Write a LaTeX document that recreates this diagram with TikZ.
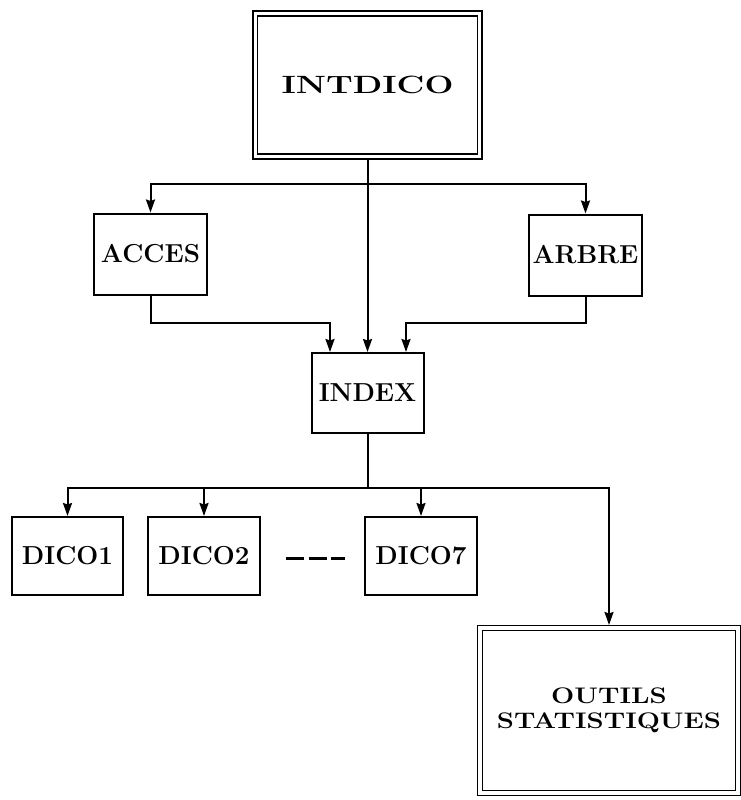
\documentclass[tikz,border=0pt]{standalone}
\usepackage{graphicx}
\usetikzlibrary{arrows.meta,calc}
\newcommand\wide[2]{\scalebox{#1}[1]{#2}}
\begin{document}
\begin{tikzpicture}[x=1pt,y=-1pt,
  every node/.style={font=\bfseries\fontsize{26}{28}\selectfont},
  box/.style={draw, line width=2pt, inner sep=0pt, minimum width=112pt, minimum height=80pt, align=center},
  dbox/.style={draw, line width=1.5pt, double, double distance=3.3pt, inner sep=0pt, outer sep=3pt, align=center},
  conn/.style={line width=2pt},
  arr/.style={conn, -{Stealth[length=13pt,width=9pt,inset=1.5pt]}},
  dashline/.style={line width=3pt, dash pattern=on 18pt off 4.5pt}
]
\useasboundingbox (0,0) rectangle (741,800);

\node[dbox, minimum width=224.5pt, minimum height=143pt,
      font=\bfseries\fontsize{25}{28}\selectfont] (intdico) at (367.5,85) {\wide{1.37}{INTDICO}};
\node[box, minimum width=113pt, minimum height=81pt] (acces) at (150.5,254) {ACCES};
\node[box, minimum width=113pt, minimum height=81pt] (arbre) at (585.5,255) {ARBRE};
\node[box] (index) at (367.5,393) {INDEX};
\node[box, minimum width=111pt, minimum height=78pt] (dico1) at (67.5,556) {DICO1};
\node[box, minimum height=78pt] (dico2) at (204,556) {DICO2};
\node[box, minimum height=78pt] (dico7) at (421,556) {DICO7};
\node[dbox, minimum width=258pt, minimum height=165pt,
      font=\bfseries\fontsize{22.5}{25}\selectfont] (outils) at (609,710.5) {\wide{1.22}{OUTILS}\\\wide{1.22}{STATISTIQUES}};

\coordinate (s1) at (367.5,184);
\coordinate (m1) at (330,323);
\coordinate (m2) at (406,323);
\coordinate (s2) at (367.5,488);

\draw[arr] (intdico.south) -- (index.north);
\draw[arr] (s1) -| (acces.north);
\draw[arr] (s1) -| (arbre.north);
\draw[arr] (acces.south) |- (m1) -- (m1 |- index.north);
\draw[arr] (arbre.south) |- (m2) -- (m2 |- index.north);

\draw[conn] (index.south) -- (s2);
\draw[arr] (s2) -| (dico1.north);
\draw[arr] (s2) -| (dico2.north);
\draw[arr] (s2) -| (dico7.north);
\draw[arr] (s2) -| (outils.north);

\coordinate (d1) at (286,558);
\coordinate (d2) at (345,558);
\draw[dashline] (d1) -- (d2);
\end{tikzpicture}
\end{document}
